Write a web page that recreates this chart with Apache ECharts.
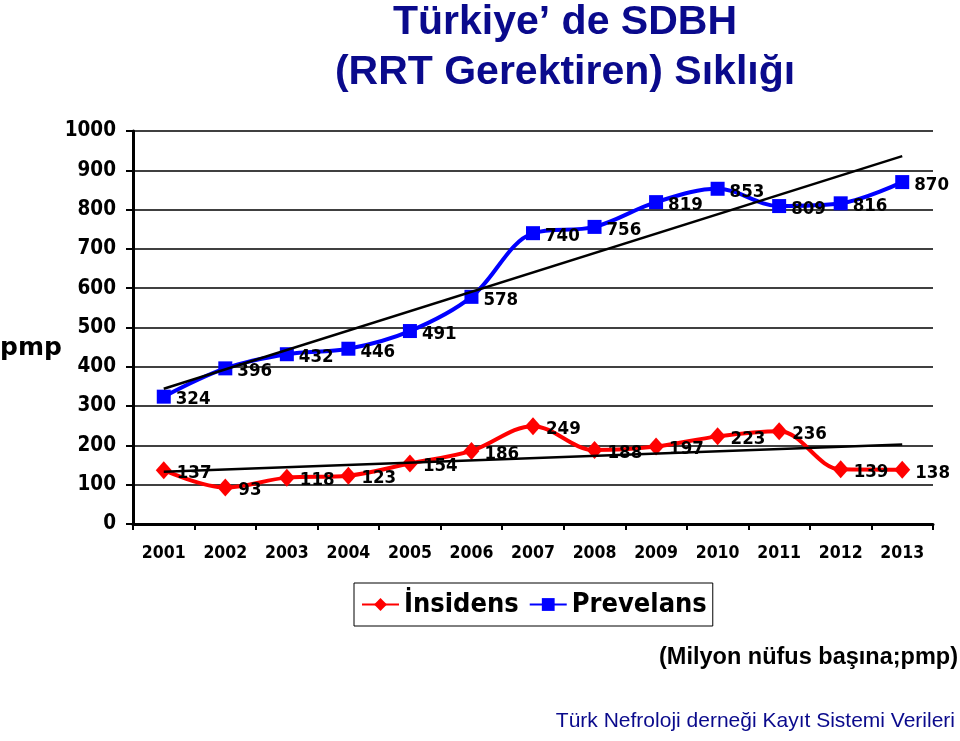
<!DOCTYPE html>
<html>
<head>
<meta charset="utf-8">
<script src="https://cdn.jsdelivr.net/npm/echarts@6/dist/echarts.min.js"></script>
<style>
html,body{margin:0;padding:0;background:#fff;}
#chart{width:960px;height:741px;}
</style>
</head>
<body>
<div id="chart"></div>
<script>
var years = ['2001','2002','2003','2004','2005','2006','2007','2008','2009','2010','2011','2012','2013'];
var insidens = [137, 93, 118, 123, 154, 186, 249, 188, 197, 223, 236, 139, 138];
var prevelans = [324, 396, 432, 446, 491, 578, 740, 756, 819, 853, 809, 816, 870];
// trend line end values (first and last year)
var insidensTrend = [133, null, null, null, null, null, null, null, null, null, null, null, 202];
var prevelansTrend = [344, null, null, null, null, null, null, null, null, null, null, null, 936];
var yTicks = [0, 100, 200, 300, 400, 500, 600, 700, 800, 900, 1000];

var navy = '#0a0a8c';
var cond = '"DejaVu Sans Condensed", "DejaVu Sans", sans-serif';

var chart = echarts.init(document.getElementById('chart'), null, {renderer: 'canvas'});

var labelStyle = {
  show: true,
  position: 'right',
  distance: 5,
  offset: [0, 3],
  color: '#000',
  fontFamily: cond,
  fontWeight: 'bold',
  fontSize: 18.5
};

chart.setOption({
  backgroundColor: '#fff',
  animation: false,
  title: {
    text: 'Türkiye’ de SDBH\n(RRT Gerektiren) Sıklığı',
    left: 560,
    top: -7,
    textAlign: 'center',
    textStyle: {
      color: navy,
      fontFamily: '"Liberation Sans", Arial, sans-serif',
      fontWeight: 'bold',
      fontSize: 41,
      lineHeight: 50
    }
  },
  grid: {left: 133, right: 27, top: 131, bottom: 217, containLabel: false},
  legend: {
    data: ['İnsidens', 'Prevelans'],
    left: 354,
    top: 583,
    padding: [8, 6, 8, 7],
    itemGap: 10,
    itemWidth: 37,
    itemHeight: 16,
    borderColor: '#000',
    borderWidth: 1,
    backgroundColor: '#fff',
    textStyle: {
      color: '#000',
      fontFamily: cond,
      fontWeight: 'bold',
      fontSize: 27,
      padding: [2, 0, 0, 0]
    }
  },
  xAxis: {
    type: 'category',
    data: years,
    boundaryGap: true,
    axisLine: {lineStyle: {color: '#000', width: 3}},
    axisTick: {show: true, length: 6, lineStyle: {color: '#000', width: 2}},
    axisLabel: {
      color: '#000',
      fontFamily: cond,
      fontWeight: 'bold',
      fontSize: 17.5,
      margin: 20
    },
    splitLine: {show: false}
  },
  yAxis: {
    type: 'value',
    min: yTicks[0],
    max: yTicks[yTicks.length - 1],
    interval: 100,
    axisLine: {show: true, lineStyle: {color: '#000', width: 3}},
    axisTick: {show: true, length: 7, lineStyle: {color: '#000', width: 2}},
    axisLabel: {
      color: '#000',
      fontFamily: cond,
      fontWeight: 'bold',
      fontSize: 20.5,
      margin: 17,
      formatter: function (v) { return String(v); }
    },
    splitLine: {show: true, lineStyle: {color: '#000', width: 1.5}}
  },
  series: [
    {
      name: 'İnsidens',
      type: 'line',
      data: insidens,
      smooth: 0.35,
      symbol: 'diamond',
      symbolSize: [16, 18],
      color: '#ff0000',
      lineStyle: {color: '#ff0000', width: 4},
      itemStyle: {color: '#ff0000'},
      label: labelStyle,
      z: 3
    },
    {
      name: 'Prevelans',
      type: 'line',
      data: prevelans,
      smooth: 0.35,
      symbol: 'rect',
      symbolSize: 14,
      color: '#0000ff',
      lineStyle: {color: '#0000ff', width: 4},
      itemStyle: {color: '#0000ff'},
      label: labelStyle,
      z: 3
    },
    {
      name: 'insTrend',
      type: 'line',
      data: insidensTrend,
      connectNulls: true,
      symbol: 'none',
      silent: true,
      lineStyle: {color: '#000', width: 2.5},
      z: 4
    },
    {
      name: 'prevTrend',
      type: 'line',
      data: prevelansTrend,
      connectNulls: true,
      symbol: 'none',
      silent: true,
      lineStyle: {color: '#000', width: 2.5},
      z: 4
    }
  ],
  graphic: [
    {
      type: 'text',
      left: 0,
      top: 336,
      style: {
        text: 'pmp',
        fill: '#000',
        font: 'bold 25px "DejaVu Sans", sans-serif'
      }
    },
    {
      type: 'text',
      right: 2,
      top: 646,
      style: {
        text: '(Milyon nüfus başına;pmp)',
        fill: '#000',
        font: 'bold 23.5px "Liberation Sans", Arial, sans-serif'
      }
    },
    {
      type: 'text',
      right: 5,
      top: 711,
      style: {
        text: 'Türk Nefroloji derneği Kayıt Sistemi Verileri',
        fill: navy,
        font: '21px "Liberation Sans", Arial, sans-serif'
      }
    }
  ]
});
</script>
</body>
</html>
